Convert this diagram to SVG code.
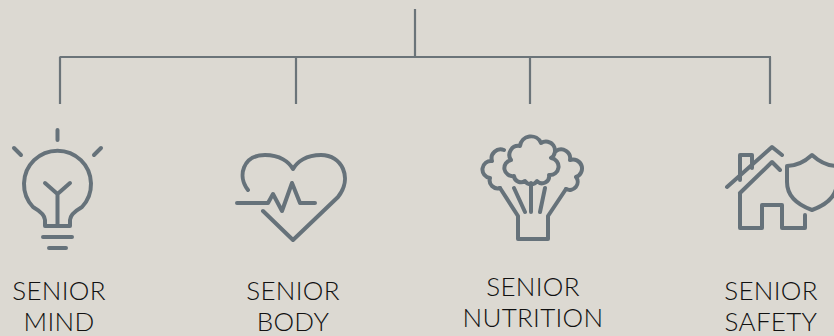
<svg xmlns="http://www.w3.org/2000/svg" width="834" height="336" viewBox="0 0 834 336">
<style>
.conn{stroke:#6b7479;stroke-width:2.2;fill:none;stroke-linecap:butt}
.ic{stroke:#66727a;stroke-width:4;fill:none;stroke-linecap:round;stroke-linejoin:round}
.lbl{font-family:"Lato","Liberation Sans",Arial,sans-serif;font-weight:300;font-size:26px;letter-spacing:0.3px;fill:#111;text-anchor:middle}
</style>
<rect width="834" height="336" fill="#dcd9d2"/>
<g id="connectors">
<path class="conn" d="M415 9V57M59.5 57H771M60 57V104M296 57V104M530 57V104M770 57V104"/>
</g>
<g id="mind">
<path class="ic" d="M57.5 130V140M14 148L21 155M101 148L94 155"/>
<path class="ic" d="M45 226V220Q45 214 33 207A33.5 33.5 0 1 1 82 207Q70 214 70 220V226Z"/>
<path class="ic" d="M45 183L57.5 194L70 183M57.5 194V226M43 237H72M49 248H66"/>
<text class="lbl" x="59" y="300">SENIOR</text>
<text class="lbl" x="59" y="331">MIND</text>
</g>
<g id="body">
<path class="ic" d="M248 190C237 176 243 155 265 155C280 155 289 162 293 169C297 162 306 155 321 155C342 155 353 178 338 197L293 240L263 211"/>
<path class="ic" d="M237 203H268L273 194L282 211L292 183L300 203H315"/>
<text class="lbl" x="293" y="300">SENIOR</text>
<text class="lbl" x="293" y="331">BODY</text>
</g>
<g id="nutrition">
<path class="ic" d="M514 176A8 8 0 0 1 511 160A9 9 0 0 1 520 146A11 11 0 0 1 541 143A9 9 0 0 1 551 158A8 8 0 0 1 549 175A7 7 0 0 1 537 181A7 7 0 0 1 525 181A7 7 0 0 1 514 176Z"/>
<path class="ic" d="M504 150A9 9 0 0 0 492 161A8 8 0 0 0 490 178A8 8 0 0 0 500 188M556 151A9 9 0 0 1 570 160A8 8 0 0 1 576 177A8 8 0 0 1 566 189"/>
<path class="ic" d="M500 188L518 216V239H548V216L566 189M514 188L525 212M531 183V212M545 188L540 212"/>
<text class="lbl" x="533" y="296">SENIOR</text>
<text class="lbl" x="533" y="327">NUTRITION</text>
</g>
<g id="safety">
<path class="ic" d="M727 187L772 147L782 155M740 180V155H752V168M740 193L772 162L780 170M740 193V228H762V205H782V228H805V215"/>
<path class="ic" d="M812 155Q800 166 787 166V182Q787 201 812 210Q837 201 837 182V166Q824 166 812 155Z"/>
<text class="lbl" x="771" y="300">SENIOR</text>
<text class="lbl" x="771" y="331">SAFETY</text>
</g>
</svg>
